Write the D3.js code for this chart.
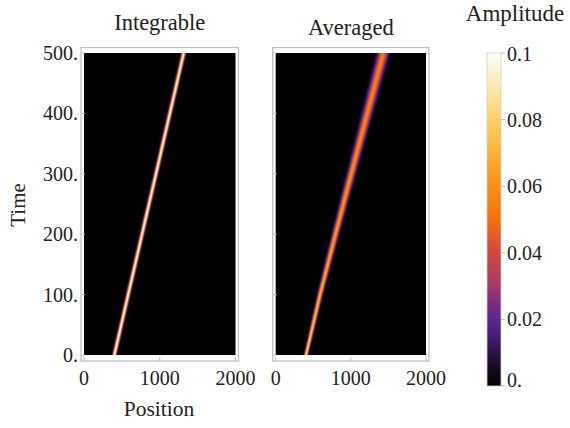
<!DOCTYPE html>
<html><head><meta charset="utf-8">
<script src="https://cdn.jsdelivr.net/npm/d3@7"></script>
<style>html,body{margin:0;padding:0;background:#fff;}svg{display:block;}</style>
</head><body>
<script>
// ---------- data ----------
const timeTicks = [0, 100, 200, 300, 400, 500];
const timeTickLabels = ["0.", "100.", "200.", "300.", "400.", "500."];
const posTicks = [0, 1000, 2000];
const posTickLabels = ["0", "1000", "2000"];
const ampTicks = [0, 0.02, 0.04, 0.06, 0.08, 0.1];
const ampTickLabels = ["0.", "0.02", "0.04", "0.06", "0.08", "0.1"];

// wave-packet track (time -> centre, width, peak)
const sampleTimes      = [0, 100, 200, 300, 400, 500];
const integrableCenter = [400, 583, 766, 950, 1133, 1316];
const integrableWidth  = [16, 16, 16, 16, 16, 16];
const integrablePeak   = [0.1, 0.1, 0.1, 0.1, 0.1, 0.1];
const averagedCenter   = [403, 590, 795, 1005, 1218, 1432];
const averagedWidth    = [15, 20, 26, 32, 38, 44];
const averagedPeak     = [0.085, 0.072, 0.064, 0.060, 0.057, 0.055];

// colour map (value -> colour)
const cmapValues = [0, 0.005, 0.01, 0.015, 0.02, 0.025, 0.03, 0.04, 0.05, 0.06, 0.07, 0.08, 0.09, 0.1];
const cmapColors = ["#000000","#140a1e","#2a1446","#431f72","#5a268c","#7e2c84","#a43a6c","#d04842",
                    "#f2700f","#f8901c","#fbb23a","#fcd06c","#fde8b2","#fffff8"];

const titles = ["Integrable", "Averaged"];

// ---------- layout ----------
const W = 570, H = 428;
const font = "'Liberation Serif', 'DejaVu Serif', serif";
const fs = 20;
const svg = d3.select("body").append("svg").attr("width", W).attr("height", H)
  .style("font-family", font);

const color = d3.scaleLinear().domain(cmapValues).range(cmapColors).clamp(true);

const panels = [
  {title: titles[0], x0: 84, x1: 235.5, titleY: 30, center: integrableCenter, width: integrableWidth, peak: integrablePeak, yLabels: true},
  {title: titles[1], x0: 275.7, x1: 426, titleY: 35, center: averagedCenter, width: averagedWidth, peak: averagedPeak, yLabels: false}
];
const yTop = 53, yBot = 355;

panels.forEach(p => {
  const x = d3.scaleLinear().domain([0, 2000]).range([p.x0, p.x1]);
  const y = d3.scaleLinear().domain([0, 500]).range([yBot, yTop]);
  const cS = d3.scaleLinear().domain(sampleTimes).range(p.center);
  const wS = d3.scaleLinear().domain(sampleTimes).range(p.width);
  const pS = d3.scaleLinear().domain(sampleTimes).range(p.peak);

  // heatmap raster
  const pw = Math.round(p.x1 - p.x0), ph = Math.round(yBot - yTop);
  const ss = 2;
  const cv = document.createElement("canvas");
  cv.width = pw * ss; cv.height = ph * ss;
  const ctx = cv.getContext("2d");
  const img = ctx.createImageData(cv.width, cv.height);
  for (let r = 0; r < cv.height; r++) {
    const t = y.invert(yTop + (r + 0.5) / ss);
    const c = cS(t), s = wS(t), pk = pS(t);
    for (let q = 0; q < cv.width; q++) {
      const pos = x.invert(p.x0 + (q + 0.5) / ss * (p.x1 - p.x0) / pw);
      const v = pk * Math.exp(-((pos - c) ** 2) / (2 * s * s));
      const col = d3.rgb(color(v));
      const i = (r * cv.width + q) * 4;
      img.data[i] = col.r; img.data[i + 1] = col.g; img.data[i + 2] = col.b; img.data[i + 3] = 255;
    }
  }
  ctx.putImageData(img, 0, 0);
  svg.append("image").attr("href", cv.toDataURL())
    .attr("x", p.x0).attr("y", yTop).attr("width", p.x1 - p.x0).attr("height", yBot - yTop)
    .attr("preserveAspectRatio", "none");

  // frame
  const fx0 = p.x0 - 3, fx1 = p.x1 + 3, fy0 = yTop - 5.5, fy1 = yBot + 6;
  svg.append("rect").attr("x", fx0).attr("y", fy0).attr("width", fx1 - fx0).attr("height", fy1 - fy0)
    .attr("fill", "none").attr("stroke", "#bdbdbd").attr("stroke-width", 1.2);

  // bottom ticks
  posTicks.forEach((v, i) => {
    svg.append("line").attr("x1", x(v)).attr("x2", x(v)).attr("y1", fy1).attr("y2", fy1 - 4)
      .attr("stroke", "#bdbdbd").attr("stroke-width", 1);
    svg.append("text").attr("x", x(v)).attr("y", 385).attr("text-anchor", "middle")
      .attr("font-size", fs).attr("fill", "#222").text(posTickLabels[i]);
  });
  // left ticks
  timeTicks.forEach((v, i) => {
    svg.append("line").attr("x1", fx0).attr("x2", fx0 + 4).attr("y1", y(v)).attr("y2", y(v))
      .attr("stroke", "#bdbdbd").attr("stroke-width", 1);
    if (p.yLabels) {
      svg.append("text").attr("x", fx0 - 3).attr("y", y(v) + 7).attr("text-anchor", "end")
        .attr("font-size", fs).attr("fill", "#222").text(timeTickLabels[i]);
    }
  });
  svg.append("text").attr("x", (p.x0 + p.x1) / 2).attr("y", p.titleY).attr("text-anchor", "middle")
    .attr("font-size", 22.5).attr("fill", "#222").text(p.title);
});

// axis titles
svg.append("text").attr("x", 159).attr("y", 416).attr("text-anchor", "middle")
  .attr("font-size", 21.5).attr("fill", "#222").text("Position");
svg.append("text").attr("transform", "translate(25,205) rotate(-90)").attr("text-anchor", "middle")
  .attr("font-size", 21).attr("fill", "#222").text("Time");

// colour bar
const cbX = 487, cbW = 14, cbTop = 53, cbBot = 386;
const cy = d3.scaleLinear().domain([0, 0.1]).range([cbBot, cbTop]);
const grad = svg.append("defs").append("linearGradient").attr("id", "cbgrad")
  .attr("x1", 0).attr("x2", 0).attr("y1", 1).attr("y2", 0);
cmapValues.forEach((v, i) => grad.append("stop").attr("offset", v / 0.1).attr("stop-color", cmapColors[i]));
svg.append("rect").attr("x", cbX).attr("y", cy(0.1)).attr("width", cbW).attr("height", cy(0) - cy(0.1))
  .attr("fill", "url(#cbgrad)").attr("stroke", "#d0d0d0").attr("stroke-width", 0.8);
ampTicks.forEach((v, i) => {
  svg.append("line").attr("x1", cbX + cbW).attr("x2", cbX + cbW + 4).attr("y1", cy(v)).attr("y2", cy(v))
    .attr("stroke", "#bdbdbd").attr("stroke-width", 1);
  let ty = cy(v) + 7;
  if (v === 0) ty -= 6;
  if (v === 0.1) ty += 1;
  svg.append("text").attr("x", cbX + cbW + 6).attr("y", ty)
    .attr("font-size", fs).attr("fill", "#222").text(ampTickLabels[i]);
});
svg.append("text").attr("x", 515).attr("y", 21).attr("text-anchor", "middle")
  .attr("font-size", 23).attr("fill", "#222").text("Amplitude");
</script>
</body></html>
